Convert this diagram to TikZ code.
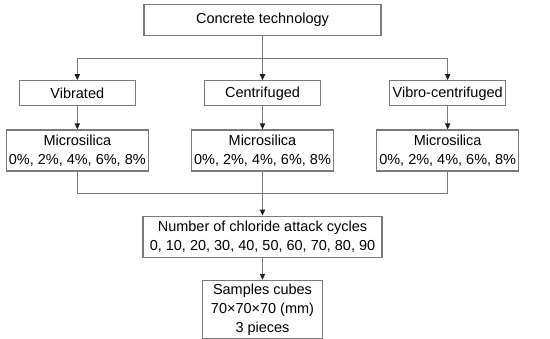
\documentclass[tikz,border=0pt]{standalone}
\usepackage{fontspec}
\setmainfont{Liberation Sans}
\usepackage{xcolor}
\usepackage{tikz}
\usetikzlibrary{arrows.meta,positioning,calc}
\definecolor{cLine}{HTML}{7A7A7A}
\definecolor{cTip}{HTML}{1E1E1E}
\tikzset{
  box/.style ={rectangle, draw=cLine, line width=0.3mm, fill=white, align=center,
               font=\fontsize{10.3}{13.5}\selectfont, inner sep=1pt},
  lvl/.style ={box, minimum width=29mm, minimum height=6.25mm},
  mix/.style ={box, minimum width=35.5mm, minimum height=10.25mm},
  ln/.style  ={draw=cLine, line width=0.3mm},
  fl/.style  ={ln, -{Triangle[length=1.5mm,width=1.3mm,color=cTip]}},
}
\begin{document}
\begin{tikzpicture}[node distance=11mm and 17mm]
  \node[box, minimum width=59.25mm, minimum height=7.75mm] (top) {Concrete technology};
  \useasboundingbox ($(top.north)+(-65.625mm,1mm)$) rectangle ($(top.north)+(71.875mm,-83.5mm)$);
  \node[lvl,below=of top] (cen) {Centrifuged};
  \node[lvl,left=of cen] (vib) {Vibrated};
  \node[lvl,right=of cen] (vcen) {Vibro-centrifuged};
  \node[mix,below=5.75mm of vib] (mic1) {Microsilica\\0\%, 2\%, 4\%, 6\%, 8\%};
  \node[mix,below=5.75mm of cen] (mic2) {Microsilica\\0\%, 2\%, 4\%, 6\%, 8\%};
  \node[mix,below=5.75mm of vcen] (mic3) {Microsilica\\0\%, 2\%, 4\%, 6\%, 8\%};
  \node[box,below=of mic2, minimum width=59.75mm, minimum height=10.25mm] (chl)
    {Number of chloride attack cycles\\0, 10, 20, 30, 40, 50, 60, 70, 80, 90};
  \node[box,below=5.5mm of chl, minimum width=30mm, minimum height=14.5mm] (smp)
    {Samples cubes\\70×70×70 (mm)\\3 pieces};
  % split and merge points
  \coordinate (split) at ($(top.south)!0.5!(cen.north)$);
  \coordinate (merge) at ($(mic2.south)!0.5!(chl.north)$);
  \draw[fl](top)--(cen);\draw[fl](split)-|(vib);\draw[fl](split)-|(vcen);
  \draw[fl](vib)--(mic1);\draw[fl](cen)--(mic2);\draw[fl](vcen)--(mic3);
  \draw[ln](mic1.south)|-(merge);\draw[ln](mic3.south)|-(merge);
  \draw[fl](mic2)--(chl);
  \draw[fl](chl)--(smp);
\end{tikzpicture}
\end{document}
